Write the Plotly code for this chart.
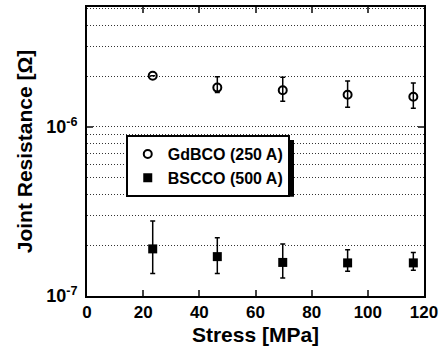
import plotly.graph_objects as go
import numpy as np

stress = [23.4, 46.4, 69.7, 92.8, 116.2]

gdbco_r = [2.01e-6, 1.71e-6, 1.65e-6, 1.55e-6, 1.51e-6]
gdbco_hi = [2.01e-6, 1.98e-6, 1.97e-6, 1.87e-6, 1.82e-6]
gdbco_lo = [2.01e-6, 1.60e-6, 1.42e-6, 1.31e-6, 1.29e-6]

bscco_r = [1.90e-7, 1.71e-7, 1.58e-7, 1.57e-7, 1.57e-7]
bscco_hi = [2.78e-7, 2.21e-7, 2.03e-7, 1.88e-7, 1.81e-7]
bscco_lo = [1.36e-7, 1.36e-7, 1.28e-7, 1.40e-7, 1.42e-7]

x_ticks = [0, 20, 40, 60, 80, 100, 120]
y_ticks = [1e-7, 1e-6]
y_ticktext = ["10<sup>-7</sup>", "10<sup>-6</sup>"]
grid_vals = [k * 1e-7 for k in range(2, 10)] + [1e-6] + [k * 1e-6 for k in range(2, 6)]

FONT = "Liberation Sans, Arial, sans-serif"

def err(vals, hi, lo):
    v = np.array(vals); return dict(type="data", symmetric=False,
        array=list(np.array(hi) - v), arrayminus=list(v - np.array(lo)),
        color="black", thickness=1.5, width=2.5)

fig = go.Figure()
fig.add_trace(go.Scatter(x=stress, y=gdbco_r, mode="markers", name="GdBCO (250 A)",
    marker=dict(symbol="circle-open", size=8, color="black", line=dict(width=2, color="black")),
    error_y=err(gdbco_r, gdbco_hi, gdbco_lo)))
fig.add_trace(go.Scatter(x=stress, y=bscco_r, mode="markers", name="BSCCO (500 A)",
    marker=dict(symbol="square", size=9, color="black"),
    error_y=err(bscco_r, bscco_hi, bscco_lo)))

# legend drop shadow (decoration), in pixel-derived paper coords
PL, PT, PW, PH = 87, 5, 337, 291
def px(x): return (x - PL) / PW
def py(y): return (PT + PH - y) / PH
fig.add_shape(type="rect", xref="paper", yref="paper", layer="above",
              x0=px(131), x1=px(294), y0=py(196), y1=py(139),
              fillcolor="black", line=dict(width=0))

fig.update_layout(
    width=443, height=348, margin=dict(l=87, r=19, t=5, b=52),
    paper_bgcolor="white", plot_bgcolor="white",
    font=dict(family=FONT, color="black", size=17),
    legend=dict(x=0.115, y=0.557, xanchor="left", yanchor="top",
                bordercolor="black", borderwidth=2, bgcolor="white",
                font=dict(size=16, family=FONT, weight="bold"),
                itemsizing="trace", tracegroupgap=0),
    showlegend=True,
)
fig.update_xaxes(range=[0, 120], tickvals=x_ticks, ticks="inside", ticklen=6, tickwidth=2,
    showline=True, linecolor="black", linewidth=2, mirror="ticks", showgrid=False, zeroline=False,
    tickfont=dict(size=17, weight="bold"),
    title=dict(text="Stress [MPa]", font=dict(size=21, weight="bold"), standoff=6))
fig.update_yaxes(type="log", range=[-7, -5.29], tickvals=y_ticks, ticktext=y_ticktext,
    ticks="inside", ticklen=6, tickwidth=2, ticklabelstandoff=4,
    showline=True, linecolor="black", linewidth=2, mirror="ticks", showgrid=False, zeroline=False,
    tickfont=dict(size=18, weight="bold"),
    minor=dict(tickvals=grid_vals, showgrid=True, gridcolor="#333", griddash="1px,2px", gridwidth=1, ticks=""),
    title=dict(text="Joint Resistance [Ω]", font=dict(size=21, weight="bold"), standoff=8))

fig.write_html("out.html", config={"displayModeBar": False},
               post_script="document.body.style.margin='0px';")
